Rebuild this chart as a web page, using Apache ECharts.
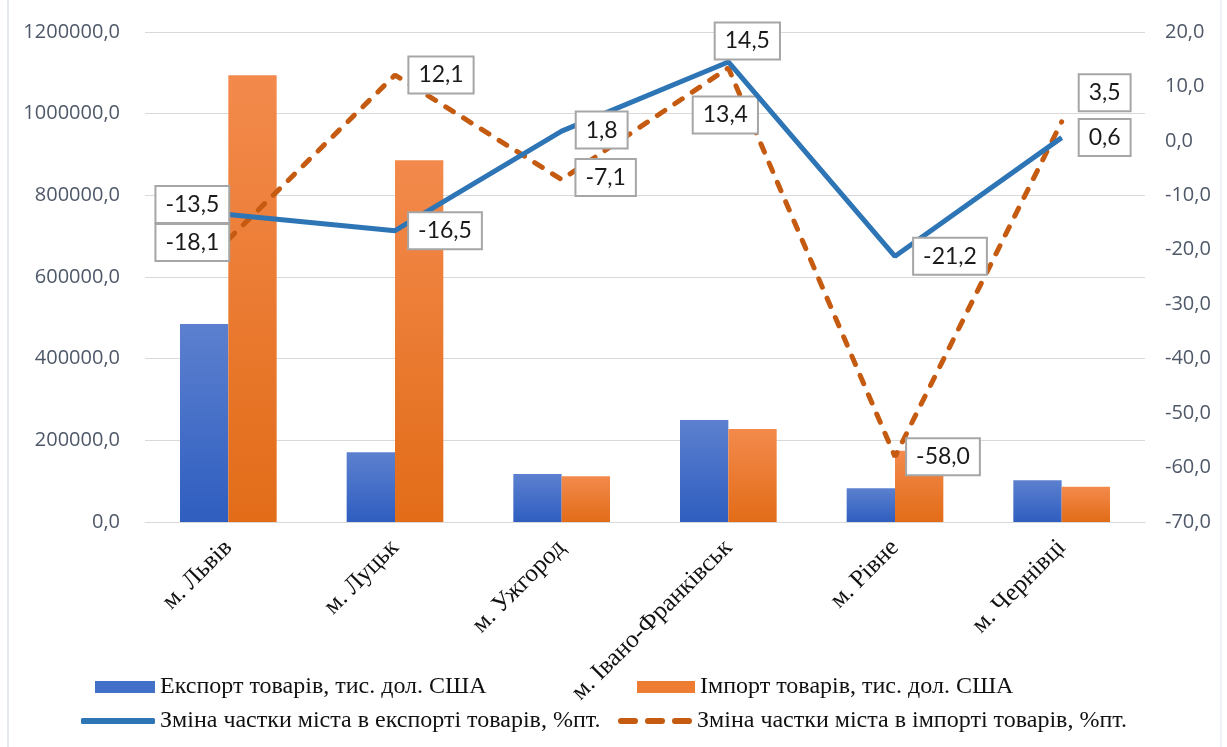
<!DOCTYPE html>
<html>
<head>
<meta charset="utf-8">
<script src="https://cdn.jsdelivr.net/npm/echarts@6/dist/echarts.min.js"></script>
<style>
html, body { margin: 0; padding: 0; background: #fff; }
#wrap { position: relative; width: 1227px; height: 747px; }
#main { width: 1227px; height: 747px; }
#frame { position: absolute; left: 7px; top: 0; width: 1211px; height: 747px; border-left: 2px solid #e4e9f0; border-right: 2px solid #eef1f5; pointer-events: none; }
</style>
</head>
<body>
<div id="wrap">
	<div id="main"></div>
	<div id="frame"></div>
</div>
<script>
// міста
var cities = ['м. Львів', 'м. Луцьк', 'м. Ужгород', 'м. Івано-Франківськ', 'м. Рівне', 'м. Чернівці'];
// тис. дол. США
var exportGoods = [485000, 171000, 117500, 249700, 82500, 102000];
var importGoods = [1094000, 886000, 112000, 227700, 174500, 86400];
// %пт.
var exportShare = [-13.5, -16.5, 1.8, 14.5, -21.2, 0.6];
var importShare = [-18.1, 12.1, -7.1, 13.4, -58.0, 3.5];
var leftTicks = [0, 1200000, 200000];
var rightTicks = [-70, 20, 10];

var names = [
	'Експорт товарів, тис. дол. США',
	'Імпорт товарів, тис. дол. США',
	'Зміна частки міста в експорті товарів, %пт.',
	'Зміна частки міста в імпорті товарів, %пт.'
];

// зсув підписів відносно точки
var exportShift = [[-36, -10], [50, 0], [40, -1], [19, -21], [55, 0], [43, 0]];
var importShift = [[-36, 3], [46, 0], [44, -2], [-3, 47], [48, 0], [43, -29]];

function fmt(v)
{
	return v.toFixed(1).replace('.', ',');
}

var boxLabel = {
	show: true,
	position: 'inside',
	color: '#1a1a1a',
	fontFamily: 'Lato',
	fontSize: 23,
	backgroundColor: '#fff',
	borderColor: '#a6a6a6',
	borderWidth: 2,
	padding: [7, 9, 5, 9],
	formatter: function (p) { return fmt(p.value); }
};

function lineData(values, shift)
{
	var res = [];
	for (var i = 0; i < values.length; i++)
	{
		res.push({ value: values[i], label: { offset: shift[i] } });
	}
	return res;
}

var myChart = echarts.init(document.getElementById('main'));

var legendText = { fontFamily: 'Liberation Serif', fontSize: 24, color: '#111' };
// пунктирна позначка легенди
var dashIcon = 'path://M3,0h14a3,3 0 0 1 0,6h-14a3,3 0 0 1 0,-6z M30,0h14a3,3 0 0 1 0,6h-14a3,3 0 0 1 0,-6z M57,0h14a3,3 0 0 1 0,6h-14a3,3 0 0 1 0,-6z';

option = {
	backgroundColor: '#fff',
	animation: false,
	grid: { left: 145, right: 82, top: 32, bottom: 225 },
	legend: [
		{ data: [{ name: names[0], icon: 'rect', itemStyle: { color: '#4270c8' } }], left: 90, top: 670, itemWidth: 60, itemHeight: 12, itemGap: 8, textStyle: legendText },
		{ data: [{ name: names[1], icon: 'rect', itemStyle: { color: '#ee7d33' } }], left: 632, top: 670, itemWidth: 58, itemHeight: 12, itemGap: 10, textStyle: legendText },
		{ data: [{ name: names[2], icon: 'roundRect' }], left: 76, top: 704, itemWidth: 74, itemHeight: 6, itemGap: 8, textStyle: legendText },
		{ data: [{ name: names[3], icon: dashIcon }], left: 613, top: 704, itemWidth: 74, itemHeight: 6, itemGap: 12, textStyle: legendText }
	],
	xAxis: {
		type: 'category',
		data: cities,
		axisLine: { lineStyle: { color: '#d9d9d9', width: 1 } },
		axisTick: { show: false },
		axisLabel: {
			interval: 0,
			rotate: 45,
			margin: 22,
			fontFamily: 'Liberation Serif',
			fontSize: 25,
			color: '#111'
		}
	},
	yAxis: [
		{
			type: 'value',
			min: leftTicks[0],
			max: leftTicks[1],
			interval: leftTicks[2],
			axisLine: { show: false },
			axisTick: { show: false },
			splitLine: { lineStyle: { color: '#d9d9d9', width: 1 } },
			axisLabel: {
				margin: 25,
				fontFamily: 'Open Sans',
				fontSize: 20,
				color: '#4e5868',
				formatter: fmt
			}
		},
		{
			type: 'value',
			min: rightTicks[0],
			max: rightTicks[1],
			interval: rightTicks[2],
			axisLine: { show: false },
			axisTick: { show: false },
			splitLine: { show: false },
			axisLabel: {
				margin: 20,
				fontFamily: 'Open Sans',
				fontSize: 20,
				color: '#4e5868',
				formatter: fmt
			}
		}
	],
	series: [
		{
			name: names[0],
			type: 'bar',
			data: exportGoods,
			barGap: '0%',
			barCategoryGap: '42%',
			itemStyle: {
				color: new echarts.graphic.LinearGradient(0, 0, 0, 1, [
					{ offset: 0, color: '#5c80cf' },
					{ offset: 1, color: '#2f5ec0' }
				])
			}
		},
		{
			name: names[1],
			type: 'bar',
			data: importGoods,
			itemStyle: {
				color: new echarts.graphic.LinearGradient(0, 0, 0, 1, [
					{ offset: 0, color: '#f38a4c' },
					{ offset: 1, color: '#e26c18' }
				])
			}
		},
		{
			name: names[2],
			type: 'line',
			yAxisIndex: 1,
			data: lineData(exportShare, exportShift),
			symbol: 'circle',
			symbolSize: 1,
			itemStyle: { color: '#2e75b6' },
			lineStyle: { color: '#2e75b6', width: 5 },
			label: boxLabel,
			z: 5
		},
		{
			name: names[3],
			type: 'line',
			yAxisIndex: 1,
			data: lineData(importShare, importShift),
			symbol: 'circle',
			symbolSize: 1,
			itemStyle: { color: '#c55a11' },
			lineStyle: { color: '#c55a11', width: 5, type: [9, 12], cap: 'round' },
			label: boxLabel,
			z: 4
		}
	]
};

myChart.setOption(option);
window.onresize = myChart.resize;
</script>
</body>
</html>
